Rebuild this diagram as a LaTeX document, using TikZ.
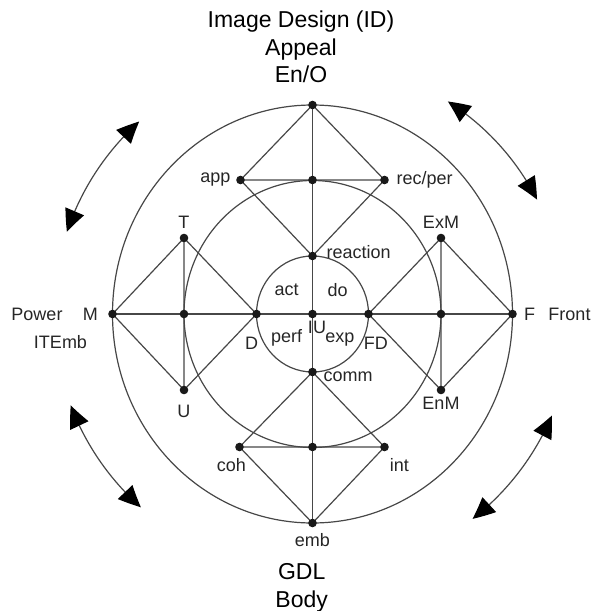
\documentclass[tikz,border=0pt]{standalone}
\usepackage{fontspec}
\setmainfont{Liberation Sans}
\usetikzlibrary{calc}
\usetikzlibrary{arrows.meta}
\usetikzlibrary{bending}

\tikzset{
  ring/.style={draw=black!72, line width=1.2pt},
  link/.style={draw=black!72, line width=1.2pt},
  lbl/.style={font=\fontsize{18}{21}\selectfont, text=black!85, inner sep=0pt},
  head/.style={font=\fontsize{23}{27.5}\selectfont, align=center, inner sep=0pt},
  turn/.style={draw=black!72, line width=1.2pt,
    {Triangle[length=22pt,width=20pt,bend,color=black]}-{Triangle[length=22pt,width=20pt,bend,color=black]}}
}

\begin{document}
\begin{tikzpicture}[x=1pt,y=1pt]
                \useasboundingbox (-312.5,-297) rectangle (280.5,314);

                \coordinate (IU) at (0,0);
                \coordinate (EnO) at (0,209);
                \coordinate (emb) at (0,-209);
                \coordinate (M) at (-200,0);
                \coordinate (F) at (200,0);
                \coordinate (app) at (-72,134);
                \coordinate (top) at (0,134);
                \coordinate (rec) at (72,134);
                \coordinate (coh) at (-73,-133);
                \coordinate (bot) at (0,-133);
                \coordinate (int) at (72,-133);
                \coordinate (T) at (-128.5,76);
                \coordinate (left) at (-128.5,0);
                \coordinate (U) at (-128.5,-76);
                \coordinate (ExM) at (128.5,76);
                \coordinate (right) at (128.5,0);
                \coordinate (EnM) at (128.5,-76);
                \coordinate (react) at (0,58);
                \coordinate (comm) at (0,-58);
                \coordinate (D) at (-56,0);
                \coordinate (FD) at (56,0);

                % the three rings
                \draw[ring] (IU) ellipse [x radius=200pt, y radius=209pt];
                \draw[ring] (IU) ellipse [x radius=128.5pt, y radius=133.5pt];
                \draw[ring] (IU) ellipse [x radius=56pt, y radius=58pt];

                \draw[link] (EnO)--(emb) (M)--(F);
                \draw[link] (EnO)--(app)--(rec)--cycle (app)--(react)--(rec);
                \draw[link] (emb)--(coh)--(int)--cycle (coh)--(comm)--(int);
                \draw[link] (M)--(T)--(U)--cycle (T)--(D)--(U);
                \draw[link] (F)--(ExM)--(EnM)--cycle (ExM)--(FD)--(EnM);

                \fill[black!90] (IU) circle (4.3pt) (EnO) circle (4.3pt) (emb) circle (4.3pt)
                    (M) circle (4.3pt) (F) circle (4.3pt) (app) circle (4.3pt) (top) circle (4.3pt)
                    (rec) circle (4.3pt) (coh) circle (4.3pt) (bot) circle (4.3pt) (int) circle (4.3pt)
                    (T) circle (4.3pt) (left) circle (4.3pt) (U) circle (4.3pt) (ExM) circle (4.3pt)
                    (right) circle (4.3pt) (EnM) circle (4.3pt) (react) circle (4.3pt)
                    (comm) circle (4.3pt) (D) circle (4.3pt) (FD) circle (4.3pt);

                \node[lbl, left=10pt] at(app) {app};
                \node[lbl, right=12pt] at(rec) {rec/per};
                \node[lbl, above=9.5pt] at(T) {T};
                \node[lbl, above=9.5pt] at(ExM) {ExM};
                \node[lbl, below=15pt] at(U) {U};
                \node[lbl, below=7pt] at(EnM) {EnM};
                \node[lbl, below=11pt, xshift=-8pt] at(coh) {coh};
                \node[lbl, below=11pt, xshift=15pt] at(int) {int};
                \node[lbl, below=10pt] at(emb) {emb};
                \node[lbl, right=14pt, yshift=4pt] at(react) {reaction};
                \node[lbl, right=11pt, yshift=-5pt] at(comm) {comm};
                \node[lbl, left=14.5pt] at(M) {M};
                \node[lbl, right=11.5pt] at(F) {F};
                \node[lbl] at($(D)+(-4.8,-29.3)$) {D};
                \node[lbl] at($(FD)+(7.3,-29.5)$) {FD};
                \node[lbl] at($(IU)+(4.5,-13)$) {IU};
                \node[lbl] at($(IU)+(-25.8,24.7)$) {act};
                \node[lbl] at($(IU)+(25.2,24)$) {do};
                \node[lbl] at($(IU)+(-25.8,-24.3)$) {perf};
                \node[lbl] at($(IU)+(27.5,-26)$) {exp};

                \node[lbl] (power) at (-275.5,0) {Power};
                \node[lbl] (itemb) at (-252,-28.5) {ITEmb};
                \node[lbl] (front) at (257,0) {Front};
                \node[head] (id) at (-11.5,267) {Image Design (ID)\\Appeal\\En/O};
                \node[head] (gdl) at (-10.8,-274) {GDL\\Body};

                % turning arrows
                \draw[turn] (132:259pt) arc[start angle=132, end angle=161.5, radius=259pt];
                \draw[turn] (57.5:252pt) arc[start angle=57.5, end angle=27, radius=252pt];
                \draw[turn] (200.7:258.5pt) arc[start angle=200.7, end angle=228.4, radius=258.5pt];
                \draw[turn] (337:260pt) arc[start angle=337, end angle=308, radius=260pt];
            \end{tikzpicture}
\end{document}
